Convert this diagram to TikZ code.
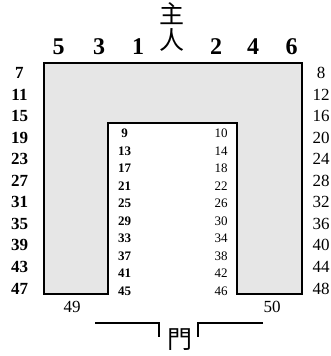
\documentclass[tikz,border=0pt]{standalone}
\usepackage{fontspec}
\setmainfont{Liberation Serif}
\newfontfamily\cjk{Noto Sans CJK TC}
\usepackage{tikz}
\usetikzlibrary{positioning}

\begin{document}
\begin{tikzpicture}[x=1pt, y=-1pt,
  topnum/.style={font=\bfseries\fontsize{24}{24}\selectfont, inner sep=0pt},
  sidenum/.style={font=\fontsize{17}{17}\selectfont, inner sep=0pt},
  innernum/.style={font=\fontsize{13}{13}\selectfont, inner sep=0pt},
  hanzi/.style={font=\cjk\fontsize{25}{25}\selectfont, inner sep=0pt}]
%
\useasboundingbox (0,0) rectangle (331,356);
% Hall (U shape)
\draw[line width=1.3, fill={rgb,255:red,230; green,230; blue,230}]
  (44,63) -- (302,63) -- (302,294) -- (237,294) -- (237,123)
  -- (108,123) -- (108,294) -- (44,294) -- cycle;
% Host
\node[hanzi] (zhu) at (172,14) {主};
\node[hanzi] (ren) at (172,40) {人};
% Top row
\node[topnum] (n5) at (58.5,46.5) {5};
\node[topnum] (n3) at (99,46.5) {3};
\node[topnum] (n1) at (138,46.5) {1};
\node[topnum] (n2) at (216,46.5) {2};
\node[topnum] (n4) at (253,46.5) {4};
\node[topnum] (n6) at (291.5,46.5) {6};
% Left outer column
\foreach \k [count=\i from 0] in {7,11,...,47}
  \node[sidenum, font=\bfseries\fontsize{17}{17}\selectfont] (n\k) at (19.5,{73+21.55*\i}) {\k};
% Right outer column
\foreach \k [count=\i from 0] in {8,12,...,48}
  \node[sidenum] (n\k) at (321,{73+21.55*\i}) {\k};
% Left inner column
\foreach \k [count=\i from 0] in {9,13,...,45}
  \node[innernum, font=\bfseries\fontsize{13}{13}\selectfont] (n\k) at (124.5,{133.5+17.5*\i}) {\k};
% Right inner column
\foreach \k [count=\i from 0] in {10,14,...,46}
  \node[innernum] (n\k) at (221,{133.5+17.5*\i}) {\k};
% Bottom
\node[sidenum] (n49) at (72,306.5) {49};
\node[sidenum] (n50) at (272,306.5) {50};
% Gate
\node[hanzi] (men) at (180,340) {門};
\coordinate (gl1) at (95,323);
\coordinate (gl2) at (159,323);
\coordinate (gl3) at (159,337);
\coordinate (gr1) at (263,323);
\coordinate (gr2) at (198,323);
\coordinate (gr3) at (198,337);
\draw[line width=1.1] (gl1) -- (gl2) -- (gl3);
\draw[line width=1.1] (gr1) -- (gr2) -- (gr3);
\end{tikzpicture}
\end{document}
